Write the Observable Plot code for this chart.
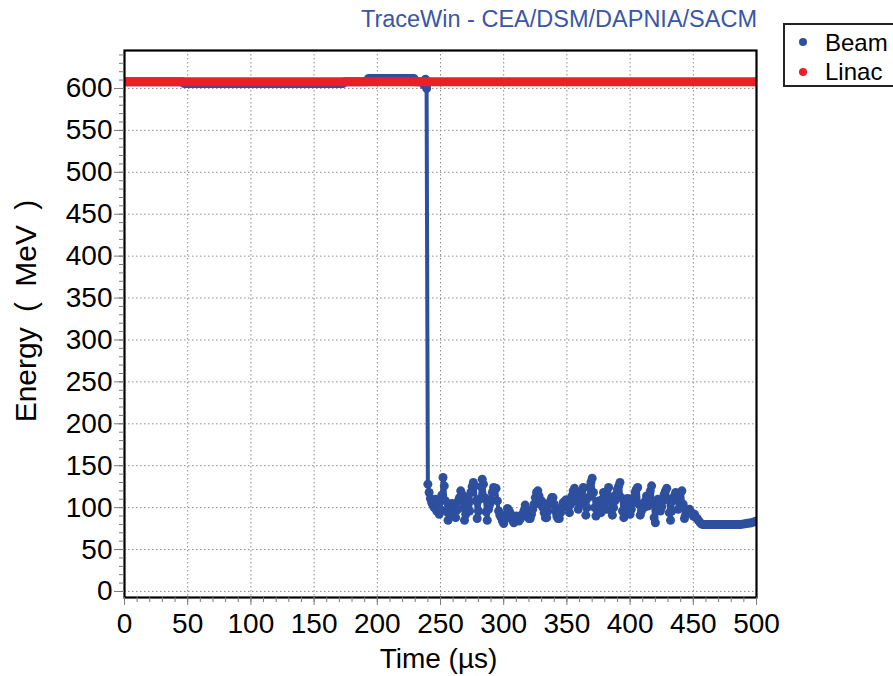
<!DOCTYPE html>
<html>
<head>
<meta charset="utf-8">
<script src="https://cdn.jsdelivr.net/npm/d3@7"></script>
<script src="https://cdn.jsdelivr.net/npm/@observablehq/plot@0.6"></script>
<style>
  html, body { margin: 0; padding: 0; background: #fff; overflow: hidden; }
  #wrap { position: relative; width: 893px; height: 676px; font-family: "Liberation Sans", Arial, sans-serif; }
  #title { position: absolute; right: 136px; top: 6px; font-size: 23.5px; color: #3a56a6; white-space: nowrap; }
  #legend { position: absolute; left: 783px; top: 23px; width: 130px; height: 64px; border: 2px solid #222; background: #fff; box-sizing: border-box; }
  .ldot { position: absolute; width: 8px; height: 8px; border-radius: 50%; }
  .ltxt { position: absolute; font-size: 24px; color: #000; line-height: 1; }
</style>
</head>
<body>
<div id="wrap">
  <div id="chart"></div>
  <div id="title">TraceWin - CEA/DSM/DAPNIA/SACM</div>
  <div id="legend">
    <div class="ldot" style="left:14px; top:13px; background:#2d4f9e;"></div>
    <div class="ltxt" style="left:40px; top:6px;">Beam</div>
    <div class="ldot" style="left:14px; top:43px; background:#ec1f26;"></div>
    <div class="ltxt" style="left:40px; top:35px;">Linac</div>
  </div>
</div>
<script>
// ---- data ----
const seriesNames = ["Beam", "Linac"];

// Beam: flat segments before the drop (breakpoints), in µs and MeV
const beamPreTime   = [0,   46,  47,  173, 174, 192, 193, 229, 230, 236, 237, 238, 239];
const beamPreEnergy = [608, 608, 606, 606, 608, 608, 612, 612, 608, 608, 604, 611, 600];

// Beam: noisy part, one sample per µs starting at 240 µs
const beamNoiseStart = 240;
const beamNoiseEnergy = [
  128,118,111,106,103,100,110,96,104,92,
  98,115,136,126,108,95,85,98,90,105,
  94,100,88,97,108,112,120,116,100,85,
  92,112,104,96,118,125,130,126,108,87,
  96,110,125,134,128,112,95,85,98,104,
  110,118,124,122,123,108,96,91,88,84,
  81,86,92,99,97,94,90,85,82,86,
  90,88,84,86,91,90,96,103,98,90,
  87,87,92,98,104,112,118,120,114,104,
  108,100,94,88,88,96,104,108,112,112,
  104,96,90,87,87,94,100,106,104,109,
  109,100,94,104,114,120,123,118,108,98,
  104,114,120,124,104,91,100,112,124,130,
  135,118,100,90,98,108,102,94,110,118,
  112,98,116,124,112,96,91,100,108,116,
  122,126,130,112,96,88,96,104,111,100,
  92,98,106,112,118,122,124,104,91,96,
  104,100,108,114,102,112,120,126,104,88,
  82,96,110,103,96,101,108,116,120,123,
  110,94,85,96,108,114,118,110,98,112,
  118,120,104,87,92,94,94,98,95,93,
  90,92,88,87,85,83,81
];

// Beam: flat tail (breakpoints)
const beamTailTime   = [457, 488, 492, 496, 500];
const beamTailEnergy = [80,  80,  81,  82,  84];

// Linac: constant energy
const linacTime   = [0, 500];
const linacEnergy = [608, 608];

// axis ticks
const xMajorTicks = [0, 50, 100, 150, 200, 250, 300, 350, 400, 450, 500];
const yMajorTicks = [0, 50, 100, 150, 200, 250, 300, 350, 400, 450, 500, 550, 600];
const xMinorTicks = d3.range(0, 501, 10);
const yMinorTicks = d3.range(0, 641, 10);

// ---- build tables ----
const beam = [
  ...beamPreTime.map((t, i) => ({t, e: beamPreEnergy[i], part: "pre"})),
  ...beamNoiseEnergy.map((e, i) => ({t: beamNoiseStart + i, e, part: "noise"})),
  ...beamTailTime.map((t, i) => ({t, e: beamTailEnergy[i], part: "tail"}))
];
const linac = linacTime.map((t, i) => ({t, e: linacEnergy[i]}));

const blue = "#2d4f9e";
const red = "#ec1f26";
const gridStyle = {stroke: "#8c8c8c", strokeOpacity: 1, strokeWidth: 1, strokeDasharray: "1.5,2.5"};

const chart = Plot.plot({
  width: 893,
  height: 676,
  marginLeft: 124,
  marginRight: 137,
  marginTop: 50,
  marginBottom: 79,
  style: {fontFamily: "Liberation Sans, Arial, sans-serif", fontSize: "28px", background: "transparent", overflow: "visible"},
  x: {domain: [0, 500], label: null, axis: null},
  y: {domain: [-7.2, 645.3], label: null, axis: null},
  marks: [
    Plot.gridX(xMajorTicks.filter(v => v > 0 && v < 500), gridStyle),
    Plot.gridY(yMajorTicks, gridStyle),
    Plot.line(beam, {x: "t", y: "e", stroke: blue, strokeWidth: 4, strokeLinejoin: "round", strokeLinecap: "round", clip: true}),
    Plot.line(beam, {filter: d => d.part !== "noise", x: "t", y: "e", z: "part", stroke: blue, strokeWidth: 9, strokeLinejoin: "round", strokeLinecap: "round", clip: true}),
    Plot.dot(beam, {filter: d => d.part === "noise", x: "t", y: "e", r: 4.5, fill: blue}),
    Plot.line(linac, {x: "t", y: "e", stroke: red, strokeWidth: 9, strokeLinecap: "butt"}),
    Plot.frame({stroke: "#000", strokeWidth: 2.2}),
    Plot.axisX(xMinorTicks, {tickSize: 5, stroke: "#7a7a7a", fill: "none", label: null}),
    Plot.axisX(xMajorTicks, {tickSize: 8, tickPadding: 8, stroke: "#7a7a7a", fill: "#000", label: null, fontSize: 28}),
    Plot.axisY(yMinorTicks, {tickSize: 5, stroke: "#7a7a7a", fill: "none", label: null}),
    Plot.axisY(yMajorTicks, {tickSize: 10, tickPadding: 2, stroke: "#7a7a7a", fill: "#000", label: null, fontSize: 28}),
    Plot.text(["Time (µs)"], {frameAnchor: "bottom", textAnchor: "middle", lineAnchor: "middle", dx: -2, dy: 62, fontSize: 28, fill: "#000"}),
    Plot.text(["Energy ( MeV )"], {frameAnchor: "left", textAnchor: "middle", lineAnchor: "middle", dx: -98, dy: -13, rotate: -90, fontSize: 30, fill: "#000", className: "ylabel"})
  ]
});
d3.select(chart).selectAll(".ylabel text").attr("word-spacing", "7px");
document.getElementById("chart").appendChild(chart);
</script>
</body>
</html>
